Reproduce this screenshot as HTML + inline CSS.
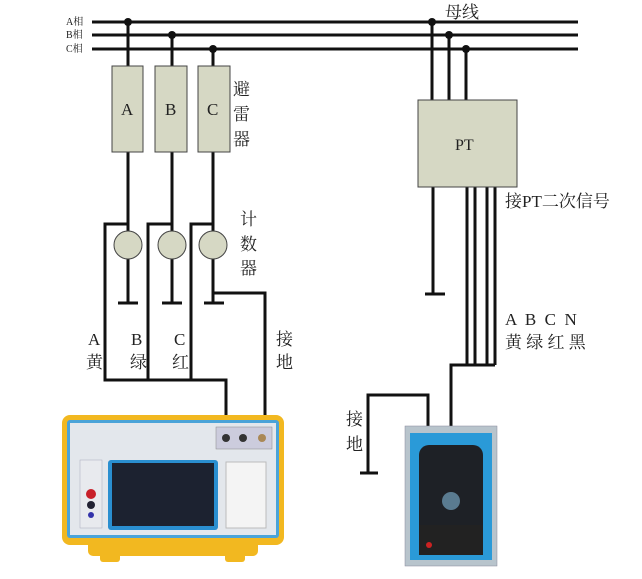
<!DOCTYPE html>
<html><head><meta charset="utf-8"><style>
html,body{margin:0;padding:0;background:#fff;width:642px;height:579px;overflow:hidden}
text{font-family:"Liberation Serif","Noto Serif CJK SC",serif;fill:#222}
</style></head><body>
<svg width="642" height="579" viewBox="0 0 642 579" xmlns="http://www.w3.org/2000/svg">
<g stroke="#111" stroke-width="3" fill="none">
<line x1="92" y1="22" x2="578" y2="22"/>
<line x1="92" y1="35" x2="578" y2="35"/>
<line x1="92" y1="49" x2="578" y2="49"/>
<line x1="128" y1="22" x2="128" y2="303"/>
<line x1="172" y1="35" x2="172" y2="303"/>
<line x1="213" y1="49" x2="213" y2="303"/>
<polyline points="128,224 105,224 105,380 226,380 226,432"/>
<polyline points="172,224 148,224 148,380"/>
<polyline points="213,224 191,224 191,380"/>
<polyline points="213,293 265,293 265,432"/>
<line x1="118" y1="303" x2="138" y2="303"/>
<line x1="162" y1="303" x2="182" y2="303"/>
<line x1="204" y1="303" x2="224" y2="303"/>
<line x1="432" y1="22" x2="432" y2="100"/>
<line x1="449" y1="35" x2="449" y2="100"/>
<line x1="466" y1="49" x2="466" y2="100"/>
<line x1="433" y1="187" x2="433" y2="294"/>
<line x1="425" y1="294" x2="445" y2="294"/>
<line x1="467" y1="187" x2="467" y2="365"/>
<line x1="475" y1="187" x2="475" y2="365"/>
<line x1="487" y1="187" x2="487" y2="365"/>
<line x1="495" y1="187" x2="495" y2="365"/>
<polyline points="495,365 451,365 451,426"/>
<polyline points="428,426 428,395 368,395 368,473"/>
<line x1="360" y1="473" x2="378" y2="473"/>
</g>
<g fill="#111">
<circle cx="128" cy="22" r="4"/><circle cx="172" cy="35" r="4"/><circle cx="213" cy="49" r="4"/>
<circle cx="432" cy="22" r="4"/><circle cx="449" cy="35" r="4"/><circle cx="466" cy="49" r="4"/>
</g>
<g fill="#d6d8c4" stroke="#444" stroke-width="1">
<rect x="112" y="66" width="31" height="86"/>
<rect x="155" y="66" width="32" height="86"/>
<rect x="198" y="66" width="32" height="86"/>
<circle cx="128" cy="245" r="14"/><circle cx="172" cy="245" r="14"/><circle cx="213" cy="245" r="14"/>
<rect x="418" y="100" width="99" height="87"/>
</g>
<g font-size="17">
<text x="121" y="115">A</text><text x="165" y="115">B</text><text x="207" y="115">C</text>
<text x="455" y="150" font-size="16">PT</text>
<text x="233" y="95">避</text><text x="233" y="120">雷</text><text x="233" y="145">器</text>
<text x="240" y="225">计</text><text x="240" y="250">数</text><text x="240" y="274">器</text>
<text x="88" y="345">A</text><text x="86" y="368">黄</text>
<text x="131" y="345">B</text><text x="130" y="368">绿</text>
<text x="174" y="345">C</text><text x="172" y="368">红</text>
<text x="276" y="345">接</text><text x="276" y="368">地</text>
<text x="346" y="425">接</text><text x="346" y="450">地</text>
<text x="445" y="18">母线</text>
<text x="505" y="207">接PT二次信号</text>
<text x="505" y="325" xml:space="preserve">A  B  C  N</text>
<text x="505" y="348">黄 绿 红 黑</text>
</g>
<g font-size="10"><text x="66" y="25">A相</text><text x="66" y="38">B相</text><text x="66" y="52">C相</text></g>
<rect x="62" y="415" width="222" height="130" rx="8" fill="#f2b820"/>
<rect x="88" y="540" width="170" height="16" rx="5" fill="#f2b820"/>
<rect x="100" y="552" width="20" height="10" rx="3" fill="#f2b820"/>
<rect x="225" y="552" width="20" height="10" rx="3" fill="#f2b820"/>
<rect x="67" y="420" width="212" height="118" rx="3" fill="#4aa3d8"/>
<rect x="70" y="423" width="206" height="112" fill="#e3e7ec"/>
<rect x="108" y="460" width="110" height="70" rx="3" fill="#2a8fd0"/>
<rect x="112" y="463" width="102" height="63" fill="#1c2230"/>
<rect x="80" y="460" width="22" height="68" fill="#e8eaee" stroke="#aab" stroke-width="0.5"/>
<circle cx="91" cy="494" r="5" fill="#c8202a"/><circle cx="91" cy="505" r="4" fill="#223"/><circle cx="91" cy="515" r="3" fill="#33a"/>
<rect x="226" y="462" width="40" height="66" fill="#f4f4f4" stroke="#bbb"/>
<rect x="216" y="427" width="56" height="22" fill="#ccd" stroke="#888" stroke-width="0.5"/>
<circle cx="226" cy="438" r="4" fill="#333"/><circle cx="243" cy="438" r="4" fill="#333"/><circle cx="262" cy="438" r="4" fill="#a85"/>
<rect x="405" y="426" width="92" height="140" fill="#b8c4cc" stroke="#889" stroke-width="0.5"/>
<rect x="410" y="433" width="82" height="127" fill="#2a9ad8"/>
<rect x="419" y="445" width="64" height="96" rx="10" fill="#1e2126"/>
<rect x="419" y="525" width="64" height="30" fill="#222"/>
<circle cx="451" cy="501" r="9" fill="#5a7b90"/>
<circle cx="429" cy="545" r="3" fill="#c22"/>
</svg>
</body></html>
